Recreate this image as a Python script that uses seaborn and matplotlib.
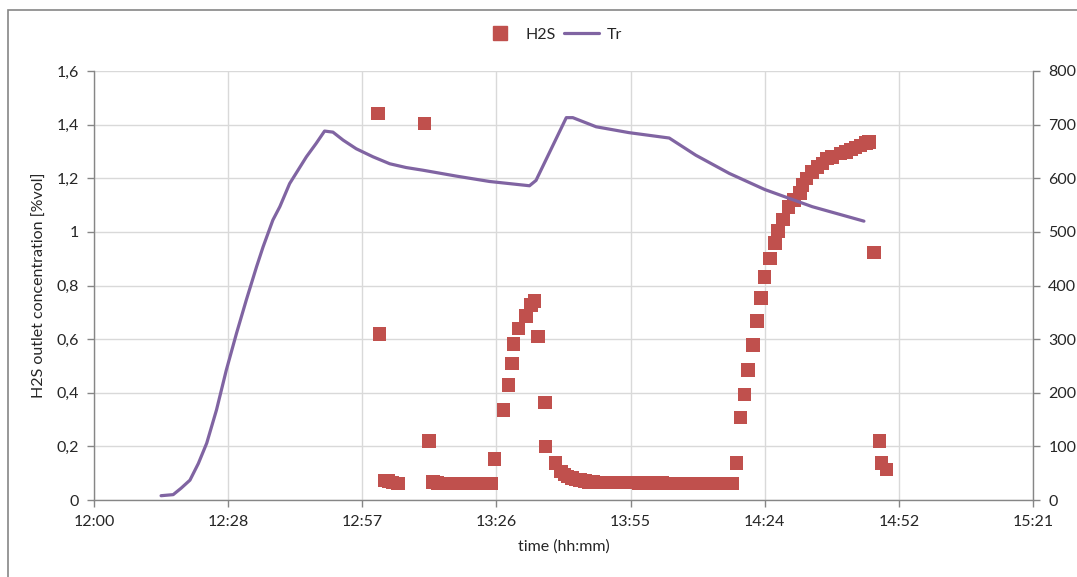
import matplotlib
matplotlib.use('Agg')

import pandas as pd
import numpy as np
import seaborn as sns
import matplotlib.pyplot as plt
from matplotlib.lines import Line2D
from matplotlib.patches import Rectangle

# minutes after 12:00
h2s_time = [61.0, 61.3, 62.4, 63.2, 64.1, 65.3,
            71.0, 71.9, 72.8, 73.7, 74.6, 75.5, 76.4, 77.3, 78.2, 79.1, 80.0,
            80.9, 81.8, 82.7, 83.6, 84.5, 85.3,
            86.0, 87.9, 89.0, 89.7, 90.1, 91.1, 92.8, 93.8, 94.6, 95.3, 96.8, 96.9,
            99.1, 100.3, 101.0, 101.7, 102.6, 103.5, 104.4, 105.4, 106.3, 107.2,
            108.2, 109.1, 110.1, 111.0,
            112.0, 113.0, 114.0, 115.0, 116.0, 117.0, 118.0, 119.0, 120.0, 121.0,
            122.0, 123.0, 124.0, 125.0, 126.0, 127.0, 128.0, 129.0, 130.0, 131.0,
            132.0, 133.0, 134.0, 135.0, 136.0, 137.0,
            137.9, 138.8, 139.7, 140.4, 141.5, 142.4, 143.2, 144.0, 145.1, 146.2,
            146.9, 147.9, 149.1, 150.3, 151.6, 152.1, 153.0, 154.2, 155.3, 156.4,
            157.4, 158.5, 160.3, 161.4, 162.5, 163.5, 164.6, 165.7, 166.4,
            167.5, 168.6, 169.1, 170.1]
h2s_value = [1.441, 0.619, 0.073, 0.070, 0.066, 0.062,
             1.404, 0.221, 0.068, 0.064, 0.062, 0.062, 0.062, 0.061, 0.061, 0.061, 0.061,
             0.061, 0.061, 0.061, 0.061, 0.061, 0.061,
             0.152, 0.335, 0.429, 0.509, 0.581, 0.640, 0.686, 0.727, 0.743, 0.609, 0.363, 0.199,
             0.137, 0.106, 0.095, 0.087, 0.082, 0.077, 0.074, 0.071, 0.068, 0.067,
             0.066, 0.065, 0.065, 0.065,
             0.065, 0.065, 0.065, 0.065, 0.065, 0.064, 0.064, 0.064, 0.064, 0.063,
             0.063, 0.062, 0.062, 0.062, 0.062, 0.061, 0.061, 0.061, 0.061, 0.061,
             0.061, 0.061, 0.061, 0.061, 0.061, 0.061,
             0.137, 0.308, 0.394, 0.485, 0.578, 0.668, 0.754, 0.832, 0.900, 0.959,
             1.004, 1.046, 1.093, 1.118, 1.145, 1.174, 1.199, 1.224, 1.242, 1.255,
             1.274, 1.280, 1.292, 1.298, 1.307, 1.315, 1.323, 1.332, 1.336,
             0.923, 0.221, 0.137, 0.114]

tr_time = [14.4, 17.0, 18.7, 20.6, 22.4, 24.2, 26.3, 28.4, 30.6, 32.7, 34.9, 36.3,
           38.4, 39.9, 42.0, 43.8, 45.6, 47.7, 49.5, 51.3, 53.5, 56.3, 59.9, 63.5,
           67.0, 70.6, 77.8, 84.9, 93.5, 94.9, 101.4, 102.8, 107.8, 114.9, 123.5,
           129.2, 136.4, 144.0, 154.2, 165.3]
tr_value = [8, 10, 22, 37, 68, 106, 168, 242, 311, 373, 435, 472,
            522, 547, 590, 615, 640, 665, 688, 686, 671, 655, 640, 627,
            620, 615, 604, 594, 586, 596, 713, 713, 696, 685, 675,
            643, 609, 579, 547, 520]

time_labels = ['12:00', '12:28', '12:57', '13:26', '13:55', '14:24', '14:52', '15:21']

df_h2s = pd.DataFrame({'time': h2s_time, 'H2S': h2s_value})
df_tr = pd.DataFrame({'time': tr_time, 'Tr': tr_value})

sns.set_theme(style='white')
plt.rcParams['font.family'] = ['Lato', 'DejaVu Sans']

red = '#C0504D'
purple = '#8064A2'
gray = '#868686'
grid = '#D9D9D9'
txt = '#262626'
fs = 11.5

fig = plt.figure(figsize=(10.77, 5.77), dpi=100)
ax = fig.add_axes([94 / 1077, 1 - 500 / 577, (1033 - 94) / 1077, (500 - 71) / 577])
ax2 = ax.twinx()

sns.scatterplot(data=df_h2s, x='time', y='H2S', ax=ax, marker='s', s=95,
                color=red, edgecolor='none', legend=False, zorder=3)
sns.lineplot(data=df_tr, x='time', y='Tr', ax=ax2, color=purple, linewidth=2.3,
             legend=False, sort=False)

xt = [i * 28.8 for i in range(len(time_labels))]
ax.set_xlim(0, 201.6)
ax.set_xticks(xt)
ax.set_xticklabels(time_labels)
ax.set_ylim(0, 1.6)
yt = np.arange(0, 1.61, 0.2)
ax.set_yticks(yt)
ax.set_yticklabels([('%.1f' % v).rstrip('0').rstrip('.').replace('.', ',') for v in yt])
ax2.set_ylim(0, 800)
ax2.set_yticks(range(0, 801, 100))

ax.grid(True, color=grid, linewidth=1)
ax.set_axisbelow(True)
for a in (ax, ax2):
    for s in a.spines.values():
        s.set_visible(False)
ax.spines['left'].set_visible(True)
ax.spines['bottom'].set_visible(True)
ax2.spines['right'].set_visible(True)
for s in (ax.spines['left'], ax.spines['bottom'], ax2.spines['right']):
    s.set_color(gray)
    s.set_linewidth(1)

ax.tick_params(axis='both', which='major', direction='out', length=5, width=1,
               color=gray, labelsize=fs, labelcolor=txt, pad=6, left=True, bottom=True)
ax2.tick_params(axis='y', direction='out', length=5, width=1, color=gray,
                labelsize=fs, labelcolor=txt, pad=6, right=True)

ax.set_xlabel('time (hh:mm)', fontsize=fs, color=txt, labelpad=7)
ax.set_ylabel('H2S outlet concentration [%vol]', fontsize=fs, color=txt, labelpad=7)
ax2.set_ylabel('')

handles = [Line2D([], [], marker='s', linestyle='none', color=red, markersize=10),
           Line2D([], [], color=purple, linewidth=2.3)]
fig.legend(handles, ['H2S', 'Tr'], loc='center', bbox_to_anchor=(0.513, 1 - 35 / 577),
           ncol=2, frameon=False, fontsize=fs, handlelength=2.2, columnspacing=0.5,
           handletextpad=0.5)

fig.patches.append(Rectangle((8 / 1077, -0.1), 1.2, 1.1 - 10 / 577, transform=fig.transFigure,
                             fill=False, edgecolor=gray, linewidth=1.2))

fig.savefig('out.png', dpi=100)
